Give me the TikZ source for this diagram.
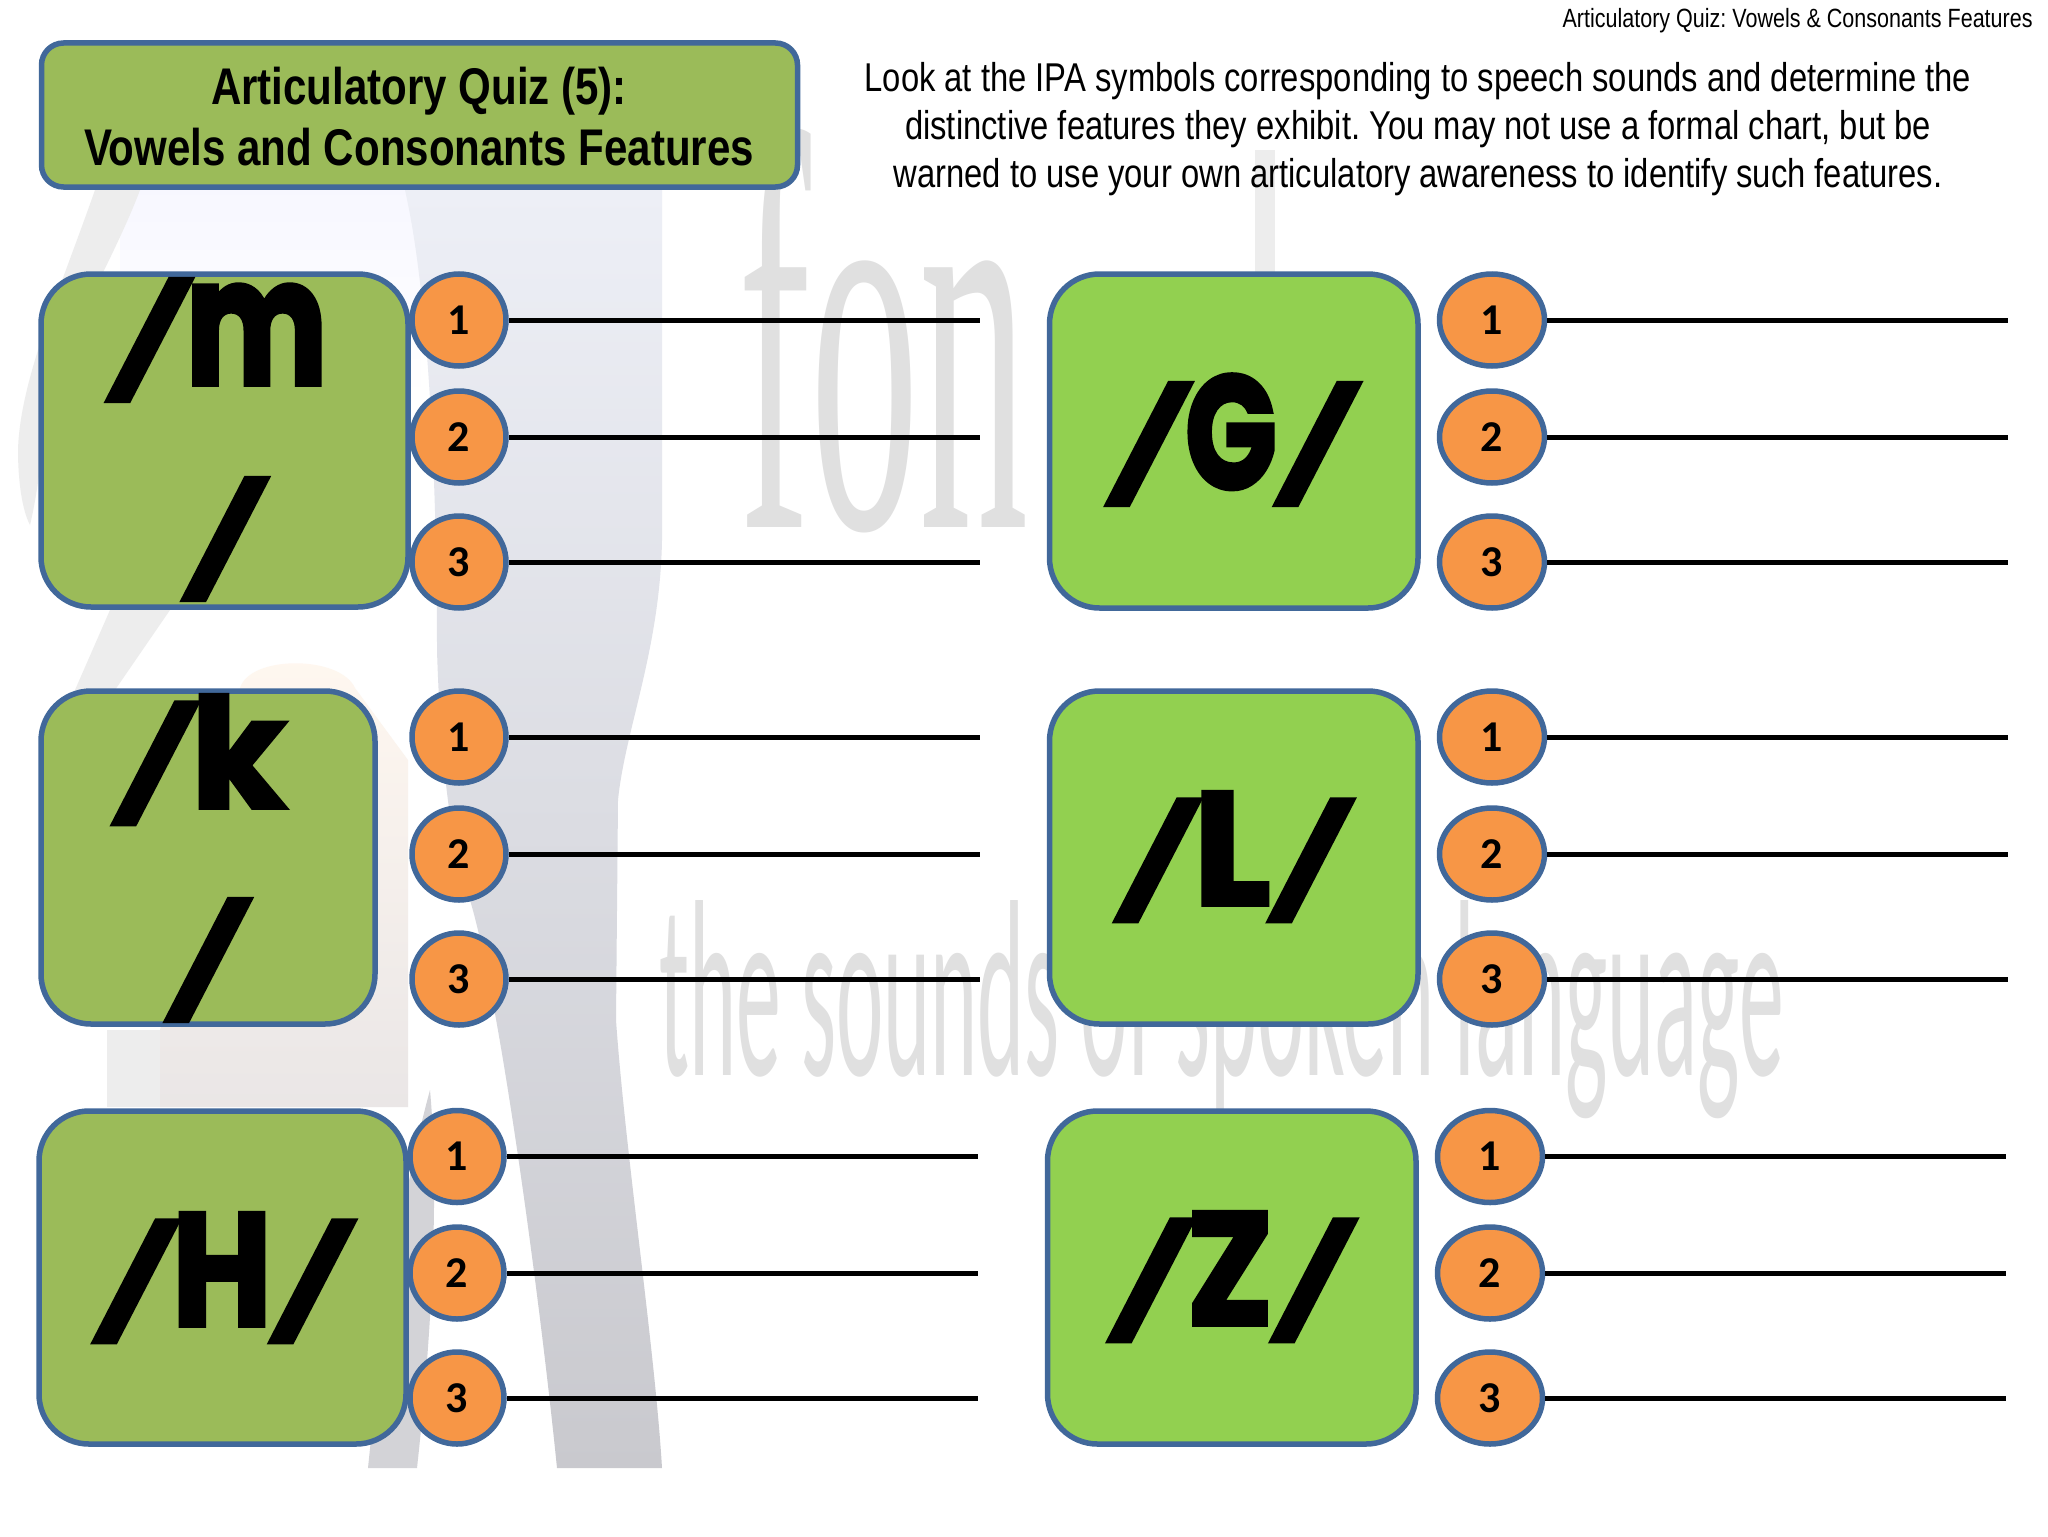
\documentclass[tikz,border=0pt]{standalone}
\usepackage{graphicx}
\usepackage{fontspec}
\usetikzlibrary{shapes.geometric}
\newfontfamily\narrowf{Liberation Sans}[FakeStretch=.815]
\newfontfamily\numf{Carlito}
\newfontfamily\wmserif{Liberation Serif}
\newfontfamily\glyphf{Poppins}[FakeBold=3]
\definecolor{olivebox}{HTML}{9BBB59}
\definecolor{limebox}{HTML}{92D050}
\definecolor{edgeblue}{HTML}{41689A}
\definecolor{badge}{HTML}{F79646}
\definecolor{wm}{HTML}{E0E0E0}
\definecolor{wmsoft}{HTML}{EDEDED}
\definecolor{panetop}{HTML}{EDEFF6}
\definecolor{panebot}{HTML}{C9C9CE}
\newcommand{\gl}[1]{\fontsize{#1}{#1}\selectfont}
\newcommand{\sla}{\raisebox{1.5pt}{\scalebox{1.25}[1]{\gl{54}\itshape\bfseries/}}}
\newcommand{\lett}[3]{\kern 4pt\scalebox{#1}[1]{\gl{#2}#3}\kern 4pt}
\tikzset{
  x=0.5pt,y=-0.5pt,
  quizbox/.style={draw=edgeblue,line width=2.75pt,rounded corners=25pt},
  badgeL/.style={ellipse,draw=edgeblue,fill=badge,line width=2.75pt,inner sep=0pt,minimum width=47pt,minimum height=46pt,font=\numf\bfseries\fontsize{22}{22}\selectfont},
  badgeR/.style={badgeL,minimum width=52.5pt},
  rule/.style={line width=2.5pt,black},
  sym/.style={inner sep=0pt,font=\glyphf\bfseries,black}
}
\frenchspacing
\begin{document}
\begin{tikzpicture}
\useasboundingbox (0,0) rectangle (2048,1536);
\fill[white] (0,0) rectangle (2048,1536);
% --- faint backdrop ---
\fill[top color=blue!3,bottom color=white] (120,190) rectangle (420,400);
\path[fill=wmsoft] (95,190) .. controls (60,290) and (20,380) .. (18,450) .. controls (18,480) and (22,510) .. (30,525) .. controls (36,500) and (40,470) .. (45,430) .. controls (50,360) and (110,270) .. (140,190) -- cycle;
\path[fill=wmsoft] (110,610) -- (170,610) -- (115,690) -- (75,690) -- cycle;
\path[top color=orange!6,bottom color=red!8!gray!18] (240,688) .. controls (250,655) and (340,655) .. (355,688) -- (408,760) -- (408,1107) -- (160,1107) -- (160,1030) -- cycle;
\path[fill=wmsoft] (107,1030) rectangle (160,1107);
\path[top color=panetop,bottom color=panebot] (405,190) -- (662,190) -- (662,540) .. controls (660,650) and (625,730) .. (618,800) -- (616,1020) .. controls (625,1150) and (655,1350) .. (662,1468) -- (557,1468) .. controls (540,1300) and (500,1000) .. (470,900) .. controls (450,850) and (440,750) .. (437,650) .. controls (437,500) and (430,300) .. (405,190) -- cycle;
\path[fill=panebot,opacity=.8] (430,1090) .. controls (400,1200) and (380,1350) .. (368,1468) -- (417,1468) .. controls (430,1350) and (440,1200) .. (430,1090) -- cycle;
\node[inner sep=0pt,anchor=base west,text=wm,xscale=.385,font=\wmserif\fontsize{283}{283}\selectfont] (wmfon) at (738,527) {fon};
\node[inner sep=0pt,anchor=base west,text=wm,xscale=.356,font=\numf\fontsize{126}{126}\selectfont] (wmsound) at (659,1075) {the sounds of spoken language};
\path[fill=wmsoft] (1255,150) rectangle (1275,275);
% --- header ---
\node[inner sep=0pt,anchor=base east,font=\narrowf\fontsize{13.2}{15}\selectfont] (hdr) at (2033,28) {Articulatory Quiz: Vowels \& Consonants Features};
\node[quizbox,fill=olivebox,rounded corners=11pt,minimum width=378pt,minimum height=72pt,inner sep=0pt] (title) at (419.5,115) {};
\node[align=center,inner sep=0pt,font=\narrowf\bfseries\fontsize{25.8}{30.5}\selectfont] (titletext) at (419,116.5) {Articulatory Quiz (5):\\Vowels and Consonants Features};
\node[align=center,inner sep=0pt,font=\narrowf\fontsize{20.1}{24}\selectfont] (intro) at (1418,129) {Look at the IPA symbols corresponding to speech sounds and determine the\\distinctive features they exhibit. You may not use a formal chart, but be\\warned to use your own articulatory awareness to identify such features.};
% --- symbol boxes ---
\draw[quizbox,fill=olivebox] (41,274) rectangle (408,607);
\draw[quizbox,fill=limebox] (1049.5,274) rectangle (1418,608);
\draw[quizbox,fill=olivebox] (41,691) rectangle (375,1024);
\draw[quizbox,fill=limebox] (1049.5,691) rectangle (1418,1024);
\draw[quizbox,fill=olivebox] (39,1111) rectangle (406,1444);
\draw[quizbox,fill=limebox] (1047.5,1111) rectangle (1416,1444);
% --- answer rows ---
\foreach \nm/\st/\cx/\ya/\yb/\yc/\xe in {
  m/badgeL/459/320/437/562/980,
  g/badgeR/1492/320/437/562/2008,
  k/badgeL/459/737/854/979/980,
  l/badgeR/1492/737/854/979/2008,
  h/badgeL/457/1156.5/1273/1398/978,
  z/badgeR/1490/1156.5/1273/1398/2006}{
  \coordinate (\nm end1) at (\xe,\ya);
  \coordinate (\nm end2) at (\xe,\yb);
  \coordinate (\nm end3) at (\xe,\yc);
  \node[\st] (\nm b1) at (\cx,\ya) {1};
  \node[\st] (\nm b2) at (\cx,\yb) {2};
  \node[\st] (\nm b3) at (\cx,\yc) {3};
  \draw[rule] (\nm b1) -- (\nm end1);
  \draw[rule] (\nm b2) -- (\nm end2);
  \draw[rule] (\nm b3) -- (\nm end3);
}
\node[sym] (sm1) at (226,340) {\sla\lett{.76}{88}{m}};
\node[sym] (sm2) at (223,539) {\sla};
\node[sym] (sk1) at (208,760) {\sla\lett{1}{76}{k}};
\node[sym] (sk2) at (206,960) {\sla};
\node[sym] (sg) at (1231,440) {\sla\lett{.75}{80}{G}\sla};
\node[sym] (sl) at (1232,857) {\sla\lett{1}{80}{L}\sla};
\node[sym] (sh) at (222,1278) {\sla\lett{.85}{80}{H}\sla};
\node[sym] (sz) at (1230,1277) {\sla\lett{.9}{80}{Z}\sla};
\end{tikzpicture}
\end{document}
